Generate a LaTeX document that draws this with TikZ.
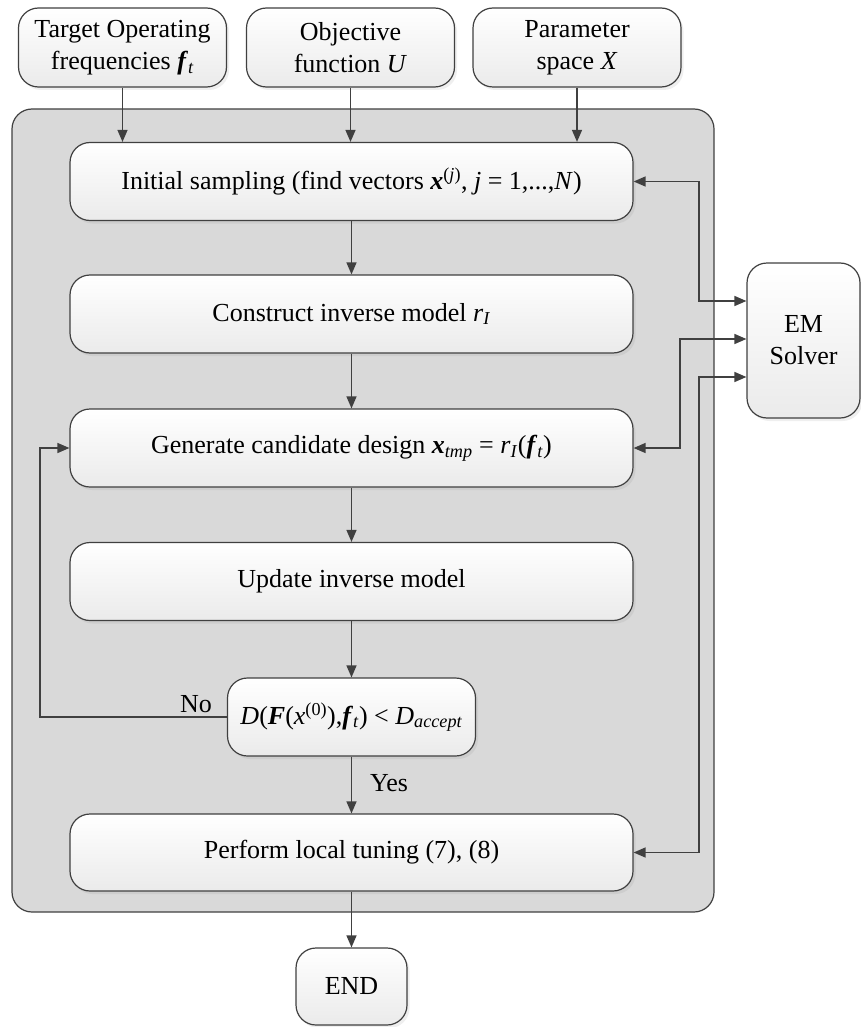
\documentclass[tikz,border=0pt]{standalone}
\usepackage{fontspec}
\setmainfont{Liberation Serif}
\usetikzlibrary{arrows.meta,shadows,calc}
\definecolor{lc}{HTML}{404040}
\definecolor{cbg}{HTML}{D9D9D9}
\newcommand{\bi}[1]{\textbf{\textit{#1}}}
\begin{document}
\begin{tikzpicture}[x=1pt,y=-1pt,
  font=\fontsize{26}{32}\selectfont,
  box/.style={draw=lc, line width=1.2pt, rounded corners=20pt, top color=white, bottom color=black!8,
    drop shadow={shadow xshift=2.5pt, shadow yshift=-3pt, opacity=0.13}, align=center, inner sep=0pt},
  mainbox/.style={box, minimum width=563pt, minimum height=78pt},
  topbox/.style={box, minimum width=208pt, minimum height=79pt},
  container/.style={draw=lc, line width=1.2pt, fill=cbg, rounded corners=20pt, inner sep=0pt},
  tip/.style={},
  arr/.style={draw=lc, line width=1.4pt, -{Triangle[length=12pt,width=10pt]}},
  darr/.style={draw=lc, line width=1.4pt, {Triangle[length=12pt,width=10pt]}-{Triangle[length=12pt,width=10pt]}},
  lbl/.style={inner sep=0pt}
]
\useasboundingbox (0,0) rectangle (861,1027);

\node[container, minimum width=702pt, minimum height=803pt] (frame) at (363,510.5) {};

\node[topbox] (tf) at (122.5,47.5) {Target Operating\\frequencies \bi{f}\textsubscript{\textit{t}}};
\node[topbox] (obj) at (350.5,47.5) {Objective\\function \textit{U}};
\node[topbox] (par) at (577,47.5) {Parameter\\space \textit{X}};

\node[mainbox] (is) at (351.5,181.5) {Initial sampling (find vectors \bi{x}\textsuperscript{(\textit{j})}, \textit{j} = 1,...,\textit{N})};
\node[mainbox] (con) at (351.5,314) {Construct inverse model \textit{r}\textsubscript{\textit{I}}};
\node[mainbox] (cand) at (351.5,448) {Generate candidate design \bi{x}\textsubscript{\textit{tmp}} = \textit{r}\textsubscript{\textit{I}}(\bi{f}\textsubscript{\textit{t}})};
\node[mainbox] (upd) at (351.5,581.5) {Update inverse model};
\node[box, minimum width=248pt, minimum height=78pt] (dec) at (351.5,717) {\textit{D}(\bi{F}(\textit{x}\textsuperscript{(0)}),\bi{f}\textsubscript{\textit{t}}) {\textless} \textit{D}\textsubscript{\textit{accept}}};
\node[mainbox, minimum height=77pt] (loc) at (351.5,852.5) {Perform local tuning (7), (8)};
\node[box, minimum width=111pt, minimum height=77pt] (end) at (351.5,986.5) {END};
\node[box, minimum width=113pt, minimum height=155pt] (em) at (803.5,340.5) {EM\\Solver};

\draw[arr] (tf.south) -- (tf.south |- is.north);
\draw[arr] (obj.south) -- (obj.south |- is.north);
\draw[arr] (par.south) -- (par.south |- is.north);

\draw[arr] (is.south) -- (con.north);
\draw[arr] (con.south) -- (cand.north);
\draw[arr] (cand.south) -- (upd.north);
\draw[arr] (upd.south) -- (dec.north);
\draw[arr] (dec.south) -- (loc.north);
\draw[arr] (loc.south) -- (end.north);

\node[lbl] (yes) at (389,783) {Yes};
\node[lbl] (no) at (196,704) {No};

\coordinate (l1) at (40,717);
\draw[arr] (dec.west) -- (l1) |- (cand.west);

\coordinate (b1) at (699,301);
\coordinate (b2) at (680,339);
\coordinate (b3) at (699,377);
\draw[darr] (is.east) -| (b1) -- (b1 -| em.west);
\draw[darr] (cand.east) -| (b2) -- (b2 -| em.west);
\draw[darr] (loc.east) -| (b3) -- (b3 -| em.west);
\end{tikzpicture}
\end{document}
